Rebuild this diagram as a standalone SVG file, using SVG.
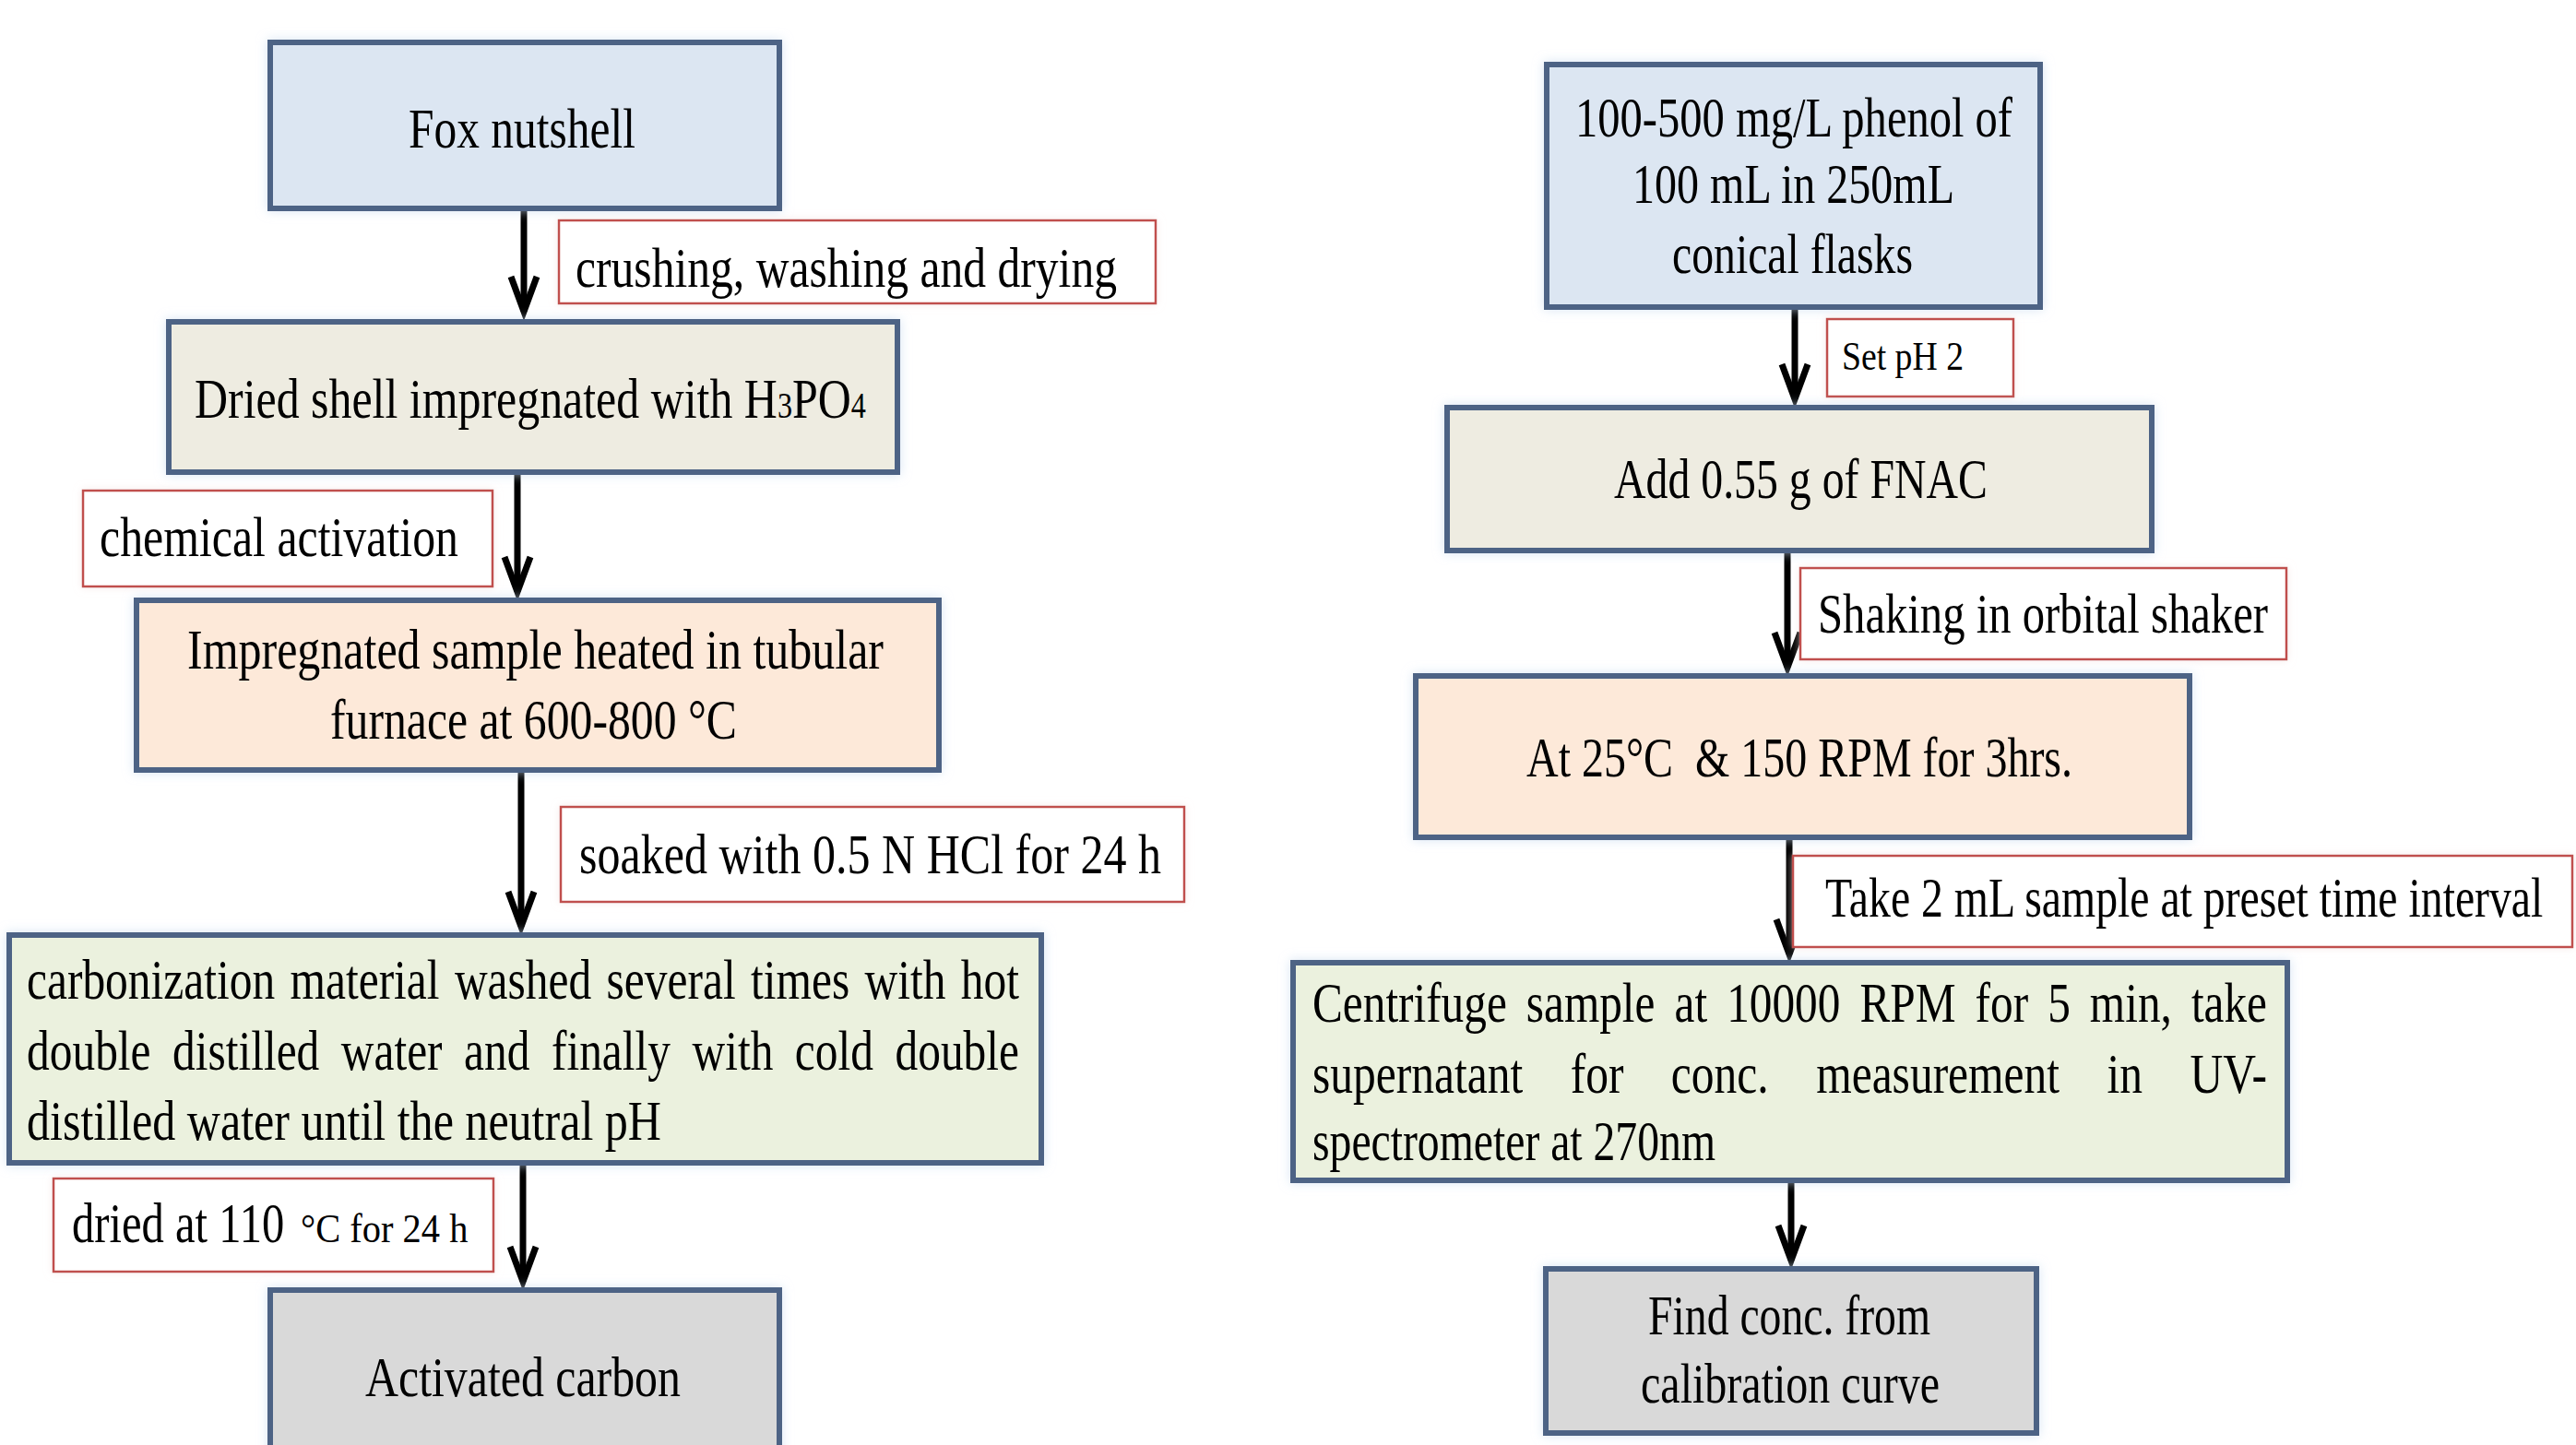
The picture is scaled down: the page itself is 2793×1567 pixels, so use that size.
<svg xmlns="http://www.w3.org/2000/svg" width="2793" height="1567" viewBox="0 0 2793 1567">
<style>
.box{stroke:#4e6385;stroke-width:6;filter:url(#glow)}
.blue{fill:#dce6f2}
.beige{fill:#eeece1}
.peach{fill:#fde9d9}
.green{fill:#ebf1de}
.gray{fill:#d9d9d9}
.lbl{fill:#ffffff;stroke:#c0504d;stroke-width:2.5;filter:url(#pglow)}
.t{font-family:"Liberation Serif","Times New Roman",serif;font-size:62px;fill:#000000}
.s{font-size:44px}
.sub{font-size:40px}
.conn{fill:none;stroke:#000000;stroke-width:7;marker-end:url(#arr)}
</style>
<defs>
<filter id="glow" x="-10%" y="-10%" width="120%" height="120%">
<feGaussianBlur in="SourceAlpha" stdDeviation="6" result="b"/>
<feFlood flood-color="#c6d9f0" flood-opacity="0.7"/>
<feComposite in2="b" operator="in" result="g"/>
<feMerge><feMergeNode in="g"/><feMergeNode in="SourceGraphic"/></feMerge>
</filter>
<filter id="pglow" x="-10%" y="-20%" width="120%" height="140%">
<feGaussianBlur in="SourceAlpha" stdDeviation="4" result="b"/>
<feFlood flood-color="#f2dcdb" flood-opacity="0.6"/>
<feComposite in2="b" operator="in" result="g"/>
<feMerge><feMergeNode in="g"/><feMergeNode in="SourceGraphic"/></feMerge>
</filter>
<marker id="arr" markerUnits="userSpaceOnUse" markerWidth="60" markerHeight="60" refX="0" refY="0" orient="auto" overflow="visible">
<path d="M-38,-14 L0,0 L-38,14" fill="none" stroke="#000000" stroke-width="7" stroke-linejoin="miter"/>
</marker>
</defs>
<rect width="2793" height="1567" fill="#ffffff"/>

<g id="connectors">
<path class="conn" d="M568 228 V338"/>
<path class="conn" d="M561 513 V642"/>
<path class="conn" d="M565 836 V1005"/>
<path class="conn" d="M567 1262 V1390"/>
<path class="conn" d="M1946 335 V433"/>
<path class="conn" d="M1938 599 V724"/>
<path class="conn" d="M1940 910 V1035"/>
<path class="conn" d="M1942 1282 V1367"/>
</g>

<g id="n-fox">
<rect class="box blue" x="293" y="46" width="552" height="180"/>
<text class="t" x="443" y="160" textLength="246" lengthAdjust="spacingAndGlyphs">Fox nutshell</text>
</g>
<g id="l-crush">
<rect class="lbl" x="606" y="239" width="647" height="90"/>
<text class="t" x="624" y="311" textLength="587" lengthAdjust="spacingAndGlyphs">crushing, washing and drying</text>
</g>
<g id="n-dried">
<rect class="box beige" x="183" y="349" width="790" height="163"/>
<text class="t" transform="translate(211,453) scale(0.805,1)" x="0" y="0">Dried shell impregnated with H<tspan class="sub">3</tspan>PO<tspan class="sub">4</tspan></text>
</g>
<g id="l-chem">
<rect class="lbl" x="90" y="532" width="444" height="104"/>
<text class="t" x="108" y="603" textLength="389" lengthAdjust="spacingAndGlyphs">chemical activation</text>
</g>
<g id="n-heat">
<rect class="box peach" x="148" y="651" width="870" height="184"/>
<text class="t" x="203" y="725" textLength="755" lengthAdjust="spacingAndGlyphs">Impregnated sample heated in tubular</text>
<text class="t" x="358" y="801" textLength="441" lengthAdjust="spacingAndGlyphs">furnace at 600-800 °C</text>
</g>
<g id="l-soak">
<rect class="lbl" x="608" y="875" width="676" height="103"/>
<text class="t" x="628" y="947" textLength="631" lengthAdjust="spacingAndGlyphs">soaked with 0.5 N HCl for 24 h</text>
</g>
<g id="n-wash">
<rect class="box green" x="10" y="1014" width="1119" height="247"/>
<text class="t" x="29" y="1083" textLength="1076" lengthAdjust="spacingAndGlyphs" word-spacing="5">carbonization material washed several times with hot</text>
<text class="t" x="29" y="1160" textLength="1076" lengthAdjust="spacingAndGlyphs" word-spacing="14">double distilled water and finally with cold double</text>
<text class="t" x="29" y="1236" textLength="688" lengthAdjust="spacingAndGlyphs">distilled water until the neutral pH</text>
</g>
<g id="l-dry">
<rect class="lbl" x="58" y="1278" width="477" height="101"/>
<text class="t" transform="translate(78,1347) scale(0.784,1)" x="0" y="0">dried at 110</text>
<text class="t s" transform="translate(326,1347) scale(0.92,1)" x="0" y="0">°C for 24 h</text>
</g>
<g id="n-carbon">
<rect class="box gray" x="293" y="1399" width="552" height="190"/>
<text class="t" x="396" y="1514" textLength="342" lengthAdjust="spacingAndGlyphs">Activated carbon</text>
</g>

<g id="n-phenol">
<rect class="box blue" x="1677" y="70" width="535" height="263"/>
<text class="t" x="1708" y="148" textLength="474" lengthAdjust="spacingAndGlyphs">100-500 mg/L phenol of</text>
<text class="t" x="1770" y="220" textLength="349" lengthAdjust="spacingAndGlyphs">100 mL in 250mL</text>
<text class="t" x="1813" y="296" textLength="261" lengthAdjust="spacingAndGlyphs">conical flasks</text>
</g>
<g id="l-ph">
<rect class="lbl" x="1981" y="346" width="202" height="84"/>
<text class="t s" x="1997" y="401" textLength="132" lengthAdjust="spacingAndGlyphs">Set pH 2</text>
</g>
<g id="n-fnac">
<rect class="box beige" x="1569" y="442" width="764" height="155"/>
<text class="t" x="1750" y="540" textLength="405" lengthAdjust="spacingAndGlyphs">Add 0.55 g of FNAC</text>
</g>
<g id="l-shake">
<rect class="lbl" x="1952" y="616" width="527" height="99"/>
<text class="t" x="1971" y="686" textLength="488" lengthAdjust="spacingAndGlyphs">Shaking in orbital shaker</text>
</g>
<g id="n-rpm">
<rect class="box peach" x="1535" y="733" width="839" height="175"/>
<text class="t" x="1655" y="842" textLength="592" lengthAdjust="spacingAndGlyphs" xml:space="preserve">At 25°C  &amp; 150 RPM for 3hrs.</text>
</g>
<g id="l-take">
<rect class="lbl" x="1944" y="928" width="845" height="99"/>
<text class="t" transform="translate(1979,994) scale(0.77,1)" x="0" y="0">Take 2 mL sample at preset time interval</text>
</g>
<g id="n-centrifuge">
<rect class="box green" x="1402" y="1044" width="1078" height="236"/>
<text class="t" x="1423" y="1108" textLength="1035" lengthAdjust="spacingAndGlyphs" word-spacing="11">Centrifuge sample at 10000 RPM for 5 min, take</text>
<text class="t" x="1423" y="1185" textLength="1035" lengthAdjust="spacingAndGlyphs" word-spacing="49">supernatant for conc. measurement in UV-</text>
<text class="t" x="1423" y="1258" textLength="437" lengthAdjust="spacingAndGlyphs">spectrometer at 270nm</text>
</g>
<g id="n-find">
<rect class="box gray" x="1676" y="1376" width="532" height="178"/>
<text class="t" x="1787" y="1447" textLength="306" lengthAdjust="spacingAndGlyphs">Find conc. from</text>
<text class="t" x="1779" y="1521" textLength="324" lengthAdjust="spacingAndGlyphs">calibration curve</text>
</g>
</svg>
